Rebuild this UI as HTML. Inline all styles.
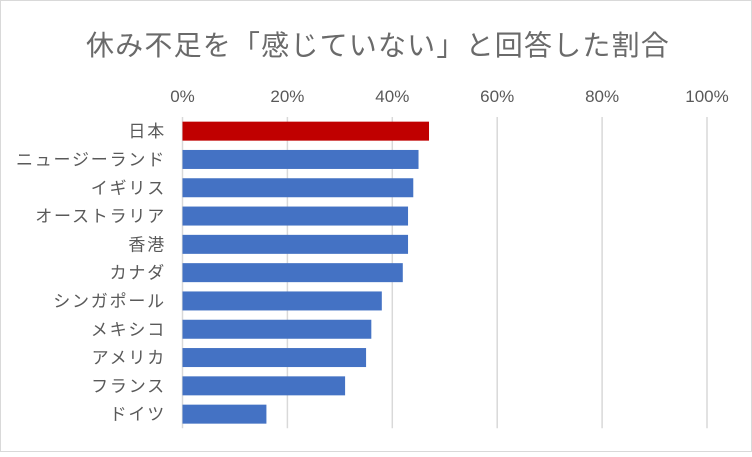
<!DOCTYPE html>
<html><head><meta charset="utf-8"><style>
body{margin:0;background:#fff;}
svg text{font-family:"Liberation Sans","Noto Sans CJK JP",sans-serif;fill:#595959;}
</style></head><body>
<svg id="c" width="752" height="452" xmlns="http://www.w3.org/2000/svg">
<rect x="0.5" y="0.5" width="751" height="451" fill="#fff" stroke="#d9d9d9"/>
<text x="378" y="55" font-size="28" letter-spacing="1.2" text-anchor="middle" style="fill:#6a6a6a">休み不足を「感じていない」と回答した割合</text>
<g id="grid"></g><g id="bars"></g><g id="labels"></g>
</svg>
<script>
const categories=["日本","ニュージーランド","イギリス","オーストラリア","香港","カナダ","シンガポール","メキシコ","アメリカ","フランス","ドイツ"];
const values=[47,45,44,43,43,42,38,36,35,31,16];
const ticks=[0,20,40,60,80,100];
const ns="http://www.w3.org/2000/svg";
const x0=182.5,pxPer=5.245,plotTop=117,rowH=28.3,barH=19;
const xs=v=>x0+v*pxPer;
const g=document.getElementById('grid'),b=document.getElementById('bars'),l=document.getElementById('labels');
function mk(t,a){const e=document.createElementNS(ns,t);for(const k in a)e.setAttribute(k,a[k]);return e;}
ticks.forEach(t=>{
 const ln=mk('line',{x1:xs(t),x2:xs(t),y1:plotTop,y2:plotTop+rowH*categories.length,stroke:'#d9d9d9','stroke-width':1.5});
 
 
 g.appendChild(ln);
 const tx=mk('text',{x:xs(t),y:102,'font-size':17,'text-anchor':'middle'});
 tx.textContent=t+'%';
 
 
 g.appendChild(tx);
});
categories.forEach((c,i)=>{
 const cy=plotTop+rowH*i+rowH/2;
 const r=mk('rect',{x:xs(0),y:cy-barH/2,width:xs(values[i])-xs(0),height:barH,fill:i===0?'#c00000':'#4472c4'});
 
 
 b.appendChild(r);
 const tx=mk('text',{x:166,y:cy+6,'font-size':17,'letter-spacing':1.8,'text-anchor':'end'});
 tx.textContent=c;
 
 
 l.appendChild(tx);
});
</script>
</body></html>
